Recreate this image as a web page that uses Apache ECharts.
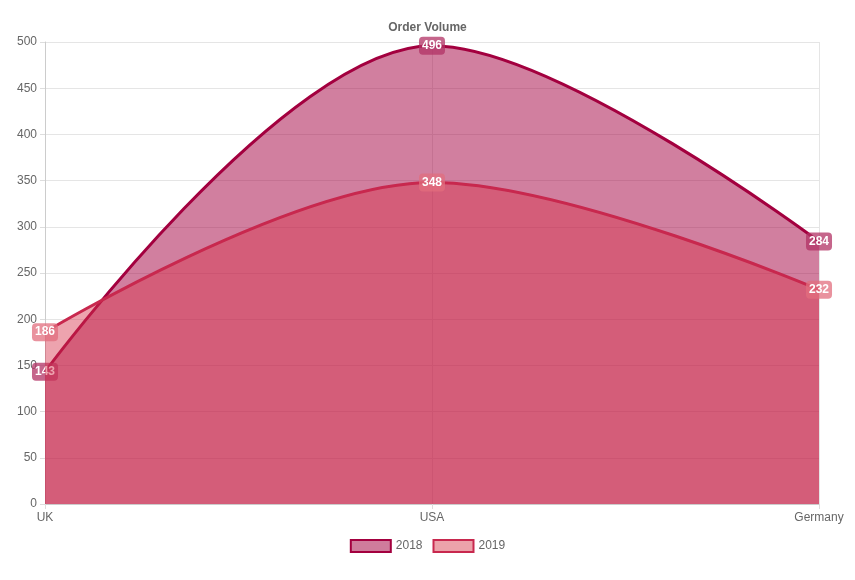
<!DOCTYPE html><html><head><meta charset="utf-8"><script src="https://cdn.jsdelivr.net/npm/echarts@6/dist/echarts.min.js"></script></head><body style="margin:0"><div id="c" style="width:855px;height:580px"></div><script>
const categories=['UK','USA','Germany'];
const s2018=[143,496,284];
const s2019=[186,348,232];
const chart=echarts.init(document.getElementById('c'));
function lab(bg){return{show:true,position:'inside',color:'#fff',fontWeight:'bold',fontSize:12,backgroundColor:bg,borderRadius:4,padding:[3,3],fontFamily:'Arial'};}
chart.setOption({
 animation:false,
 title:{text:'Order Volume',left:'center',top:17,textStyle:{fontSize:12,fontWeight:'bold',color:'#666',fontFamily:'Arial'}},
 legend:{bottom:22,icon:'rect',itemWidth:40,itemHeight:12,itemGap:10,textStyle:{color:'#666',fontSize:12,fontFamily:'Arial'},data:['2018','2019']},
 grid:{left:45,right:36,top:42,bottom:76},
 xAxis:{type:'category',data:categories,boundaryGap:false,axisLine:{lineStyle:{color:'#ccc'}},axisTick:{show:true,lineStyle:{color:'#ddd'}},axisLabel:{color:'#666',fontFamily:'Arial'},splitLine:{show:true,lineStyle:{color:'#e5e5e5'}}},
 yAxis:{type:'value',min:0,max:500,interval:50,axisLine:{show:true,lineStyle:{color:'#ccc'}},axisTick:{show:true,lineStyle:{color:'#ddd'}},axisLabel:{color:'#666',fontFamily:'Arial'},splitLine:{lineStyle:{color:'#e5e5e5'}}},
 series:[
  {name:'2018',type:'line',data:s2018,smooth:0.35,symbol:'circle',symbolSize:1,showSymbol:true,lineStyle:{color:'#a3003f',width:3},itemStyle:{color:'#cf7c9c',borderColor:'#a3003f',borderWidth:3},areaStyle:{color:'rgba(163,0,63,0.5)',opacity:1},label:lab('rgba(178,50,100,0.75)'),z:2},
  {name:'2019',type:'line',data:s2019,smooth:0.35,symbol:'circle',symbolSize:1,showSymbol:true,lineStyle:{color:'#c8284e',width:3},itemStyle:{color:'#eca2aa',borderColor:'#c8284e',borderWidth:3},areaStyle:{color:'rgba(215,50,75,0.45)',opacity:1},label:lab('rgba(225,110,125,0.75)'),z:3}
 ]
});
</script></body></html>
